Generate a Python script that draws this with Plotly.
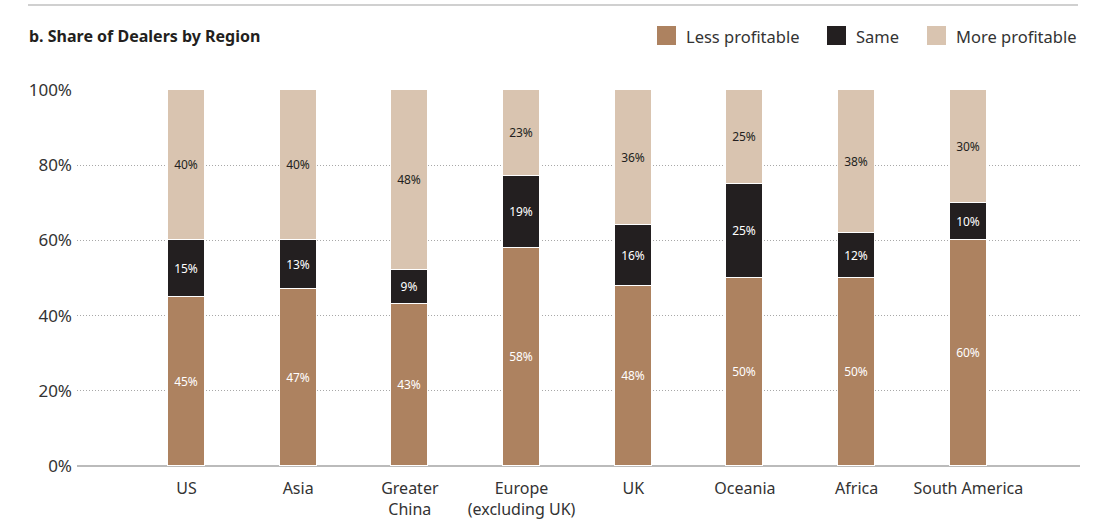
import plotly.graph_objects as go

regions = ["US", "Asia", "Greater<br>China", "Europe<br>(excluding UK)", "UK", "Oceania", "Africa", "South America"]
less_profitable = [45, 47, 43, 58, 48, 50, 50, 60]
same = [15, 13, 9, 19, 16, 25, 12, 10]
more_profitable = [40, 40, 48, 23, 36, 25, 38, 30]
series_names = ["Less profitable", "Same", "More profitable"]
y_ticks = [0, 20, 40, 60, 80, 100]
y_tick_labels = ["0%", "20%", "40%", "60%", "80%", "100%"]

colors = ["#AD8260", "#231F20", "#D9C4B0"]
text_colors = ["#FFFFFF", "#FFFFFF", "#231F20"]
FONT = "Noto Sans"

W, H = 1096, 531
L, R, T, B = 77, 16, 90, 65
pw, ph = W - L - R, H - T - B

def px(x):
    return (x - L) / pw

def py(y):
    return (H - B - y) / ph

fig = go.Figure()
for name, vals, col, tcol in zip(series_names, [less_profitable, same, more_profitable], colors, text_colors):
    fig.add_trace(go.Bar(
        x=list(range(len(regions))), y=vals, name=name,
        marker=dict(color=col, line=dict(color="white", width=1)),
        width=0.33,
        text=[f"{v}%" for v in vals], textposition="inside",
        insidetextanchor="middle",
        textfont=dict(color=tcol, size=12, family=FONT),
        constraintext="none",
        showlegend=False,
        hoverinfo="skip",
    ))

shapes = []
annotations = []
# top rule
shapes.append(dict(type="line", xref="paper", yref="paper", x0=px(28), x1=px(1078), y0=py(5), y1=py(5),
                   line=dict(color="#D0D0D0", width=2)))
# title
annotations.append(dict(xref="paper", yref="paper", x=px(27), y=py(36), xanchor="left", yanchor="middle",
                        text="<b>b. Share of Dealers by Region</b>", showarrow=False,
                        font=dict(size=16, color="#231F20", family=FONT)))
# legend
legend_pos = [(657, 684), (827, 854), (927, 954)]
for (sx, tx), name, col in zip(legend_pos, series_names, colors):
    shapes.append(dict(type="rect", xref="paper", yref="paper", x0=px(sx), x1=px(sx + 19),
                       y0=py(26), y1=py(45), fillcolor=col, line=dict(width=0)))
    annotations.append(dict(xref="paper", yref="paper", x=px(tx), y=py(36), xanchor="left", yanchor="middle",
                            text=name, showarrow=False, font=dict(size=16.5, color="#333333", family=FONT)))

fig.update_layout(
    barmode="stack",
    width=W, height=H,
    margin=dict(l=L, r=R, t=T, b=B, pad=0),
    paper_bgcolor="white", plot_bgcolor="white",
    font=dict(family=FONT, size=16, color="#333333"),
    shapes=shapes, annotations=annotations,
    bargap=0,
    xaxis=dict(range=[-0.98, 8.0], tickmode="array", tickvals=list(range(len(regions))), ticktext=regions,
               showgrid=False, zeroline=False, showline=False, ticks="",
               ticklabelstandoff=11,
               tickfont=dict(size=16, color="#333333", family=FONT)),
    yaxis=dict(range=[0, 100], tickmode="array", tickvals=y_ticks, ticktext=y_tick_labels,
               showgrid=True, gridcolor="#A8A8A8", griddash="1px,2px", gridwidth=1,
               zeroline=True, zerolinecolor="#BBBBBB", zerolinewidth=1.5,
               showline=False, ticks="", ticklen=0,
               ticklabelstandoff=4,
               tickfont=dict(size=17, color="#333333", family=FONT)),
)
fig.write_html("out.html", post_script="document.body.style.margin='0';",
               config={"displayModeBar": False})
